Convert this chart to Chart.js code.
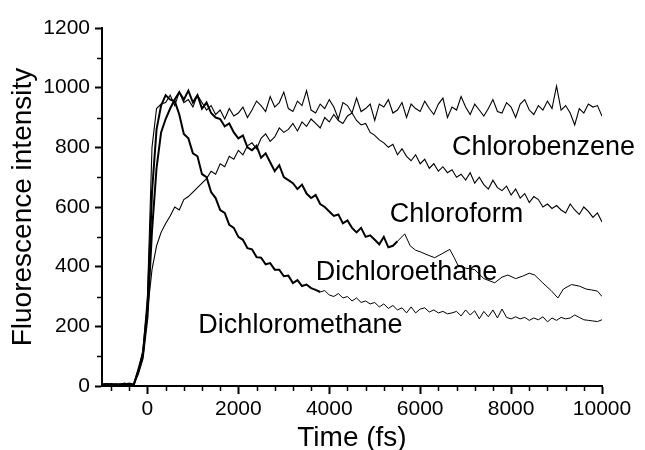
<!DOCTYPE html>
<html><head><meta charset="utf-8">
<script src="https://cdn.jsdelivr.net/npm/chart.js@4.4.1/dist/chart.umd.min.js"></script>
<style>html,body{margin:0;padding:0;background:#fff;}</style>
</head><body>
<canvas id="c" width="645" height="450"></canvas>
<script>
// ---- data ----
const timeFs = [
  -1000,-900,-800,-700,-600,-500,-400,-300,-200,-100,
  0,100,200,300,400,500,600,700,800,900,
  1000,1100,1200,1300,1400,1500,1600,1700,1800,1900,
  2000,2100,2200,2300,2400,2500,2600,2700,2800,2900,
  3000,3100,3200,3300,3400,3500,3600,3700,3800,3900,
  4000,4100,4200,4300,4400,4500,4600,4700,4800,4900,
  5000,5100,5200,5300,5400,5500,5600,5700,5800,5900,
  6000,6100,6200,6300,6400,6500,6600,6700,6800,6900,
  7000,7100,7200,7300,7400,7500,7600,7700,7800,7900,
  8000,8100,8200,8300,8400,8500,8600,8700,8800,8900,
  9000,9100,9200,9300,9400,9500,9600,9700,9800,9900,
  10000
];
const chlorobenzene = [
  5,8,3,6,4,7,5,6,50,120,
  300,800,930,945,950,975,940,985,950,960,
  935,975,950,925,940,910,925,895,930,905,
  915,935,900,925,955,940,920,970,935,950,
  985,930,920,955,940,990,925,915,945,930,
  960,935,895,950,940,915,965,920,930,945,
  890,945,935,960,915,925,950,900,945,930,
  920,955,930,910,945,965,900,935,925,970,
  935,910,945,925,905,930,960,920,915,950,
  935,900,945,960,925,910,940,925,955,930,
  1005,925,940,915,875,930,915,945,935,940,
  905
];
const chloroform = [
  5,6,4,7,5,4,6,5,40,90,
  250,390,470,515,545,570,600,590,625,635,
  650,665,680,695,720,710,745,735,770,760,
  790,775,805,815,795,830,845,820,835,865,
  850,860,880,855,885,870,895,880,865,900,
  885,910,890,880,905,915,890,875,880,850,
  840,825,815,800,810,775,795,770,755,775,
  745,760,730,745,720,735,715,725,700,710,
  690,715,680,700,675,660,690,665,655,670,
  640,660,630,645,615,635,625,600,610,595,
  605,590,580,610,590,575,600,585,565,580,
  550
];
const dichloromethane = [
  4,7,5,3,6,5,8,4,55,110,
  260,650,860,940,975,960,955,910,845,830,
  780,770,710,700,650,630,590,580,540,530,
  500,490,462,458,432,430,408,412,390,390,
  368,370,345,355,335,340,328,322,315,320,
  305,300,310,295,300,285,295,280,285,275,
  280,265,275,260,270,255,262,245,265,245,
  258,262,248,255,245,250,242,245,250,235,
  255,238,252,225,250,232,255,228,258,230,
  225,232,225,230,220,228,222,232,215,228,
  220,230,225,228,238,230,222,220,218,216,
  222
];
const timeDichloroethane = [
  -1000,-900,-800,-700,-600,-500,-400,-300,-200,-100,
  0,100,200,300,400,500,600,700,800,900,
  1000,1100,1200,1300,1400,1500,1600,1700,1800,1900,
  2000,2100,2200,2300,2400,2500,2600,2700,2800,2900,
  3000,3100,3200,3300,3400,3500,3600,3700,3800,3900,
  4000,4100,4200,4300,4400,4500,4600,4700,4800,4900,
  5000,5100,5200,5300,5400,5500,
  5660,5780,5900,6000,6150,6320,6500,6650,6750,6830,
  7000,7200,7400,7640,7800,7930,8100,8250,8400,8520,
  8700,8880,9030,9150,9330,9500,9650,9770,9900,10000
];
const dichloroethane = [
  6,4,7,5,5,8,3,6,50,100,
  230,520,730,850,895,930,960,985,960,990,
  950,975,930,950,915,900,895,870,880,850,
  830,840,800,790,805,765,780,750,720,740,
  700,690,680,660,675,645,630,640,610,600,
  585,570,575,545,555,530,515,530,500,505,
  490,475,500,465,470,485,
  510,470,455,450,440,430,445,458,430,405,
  395,390,360,346,365,372,360,368,378,372,
  345,320,295,325,340,335,325,322,318,300
];
const xTickValues = [0, 2000, 4000, 6000, 8000, 10000];
const yTickValues = [0, 200, 400, 600, 800, 1000, 1200];
const labelNames  = ['Chlorobenzene', 'Chloroform', 'Dichloroethane', 'Dichloromethane'];
const labelTimes  = [6700, 5330, 3700, 1120];
const labelValues = [775, 550, 355, 178];

// ---- chart ----
const FONT = '"Liberation Sans", Arial, Helvetica, sans-serif';
const pts = (xs, ys) => xs.map((t, i) => ({x: t, y: ys[i]}));

const minorTicks = {
  id: 'minorTicks',
  afterDraw(chart) {
    const {ctx, scales: {x, y}, chartArea: a} = chart;
    ctx.save();
    ctx.strokeStyle = '#000';
    ctx.lineWidth = 1.5;
    ctx.beginPath();
    for (let v = -800; v < 10000; v += 400) {
      if (v % 2000 === 0) continue;
      const px = Math.round(x.getPixelForValue(v)) + 0.5;
      ctx.moveTo(px, a.bottom); ctx.lineTo(px, a.bottom + 5);
    }
    for (let v = 100; v < 1200; v += 200) {
      const py = Math.round(y.getPixelForValue(v)) + 0.5;
      ctx.moveTo(a.left, py); ctx.lineTo(a.left - 5, py);
    }
    ctx.stroke();
    ctx.restore();
  }
};

const curveLabels = {
  id: 'curveLabels',
  afterDatasetsDraw(chart) {
    const {ctx, scales: {x, y}} = chart;
    ctx.save();
    ctx.font = '27px ' + FONT;
    ctx.fillStyle = '#000';
    ctx.textAlign = 'left';
    ctx.textBaseline = 'alphabetic';
    labelNames.forEach((n, i) => ctx.fillText(n, x.getPixelForValue(labelTimes[i]), y.getPixelForValue(labelValues[i])));
    ctx.restore();
  }
};

const lineStyle = (w) => ({borderColor: '#000', borderWidth: w, pointRadius: 0, tension: 0, fill: false});

new Chart(document.getElementById('c'), {
  type: 'line',
  data: {
    datasets: [
      Object.assign({label: 'Chlorobenzene', data: pts(timeFs, chlorobenzene)}, lineStyle(1.1)),
      Object.assign({label: 'Chloroform', data: pts(timeFs, chloroform)}, lineStyle(1.1)),
      Object.assign({label: 'Dichloroethane', data: pts(timeDichloroethane, dichloroethane),
        segment: {borderWidth: c => c.p0.parsed.x >= 5500 ? 1 : 2}}, lineStyle(2)),
      Object.assign({label: 'Dichloromethane', data: pts(timeFs, dichloromethane),
        segment: {borderWidth: c => c.p0.parsed.x >= 3800 ? 1 : 2}}, lineStyle(2))
    ]
  },
  options: {
    responsive: false,
    animation: false,
    layout: {padding: {top: 28, right: 43, left: 0, bottom: 0}},
    plugins: {legend: {display: false}, tooltip: {enabled: false}},
    scales: {
      x: {
        type: 'linear', min: -1000, max: 10000,
        afterBuildTicks: s => { s.ticks = xTickValues.map(v => ({value: v})); },
        afterFit: s => { s.height = 64; s.paddingLeft = 0; s.paddingRight = 0; },
        border: {display: true, color: '#000', width: 2},
        grid: {drawOnChartArea: false, drawTicks: true, tickLength: 8, tickWidth: 2, tickColor: '#000', color: '#000'},
        ticks: {color: '#000', font: {family: FONT, size: 21}, padding: 3, maxRotation: 0, autoSkip: false, callback: v => String(v)},
        title: {display: true, text: 'Time (fs)', color: '#000', font: {family: FONT, size: 28, lineHeight: 1}, padding: {top: 0, bottom: -2}}
      },
      y: {
        type: 'linear', min: 0, max: 1200,
        afterBuildTicks: s => { s.ticks = yTickValues.map(v => ({value: v})); },
        afterFit: s => { s.width = 102; s.paddingTop = 0; s.paddingBottom = 0; },
        border: {display: true, color: '#000', width: 2},
        grid: {drawOnChartArea: false, drawTicks: true, tickLength: 7, tickWidth: 2, tickColor: '#000', color: '#000'},
        ticks: {color: '#000', font: {family: FONT, size: 21}, padding: 5, callback: v => String(v)},
        title: {display: true, text: 'Fluorescence intensity', color: '#000', font: {family: FONT, size: 28, lineHeight: 1}, padding: {top: 9, bottom: 0}}
      }
    }
  },
  plugins: [minorTicks, curveLabels]
});
</script>
</body></html>
